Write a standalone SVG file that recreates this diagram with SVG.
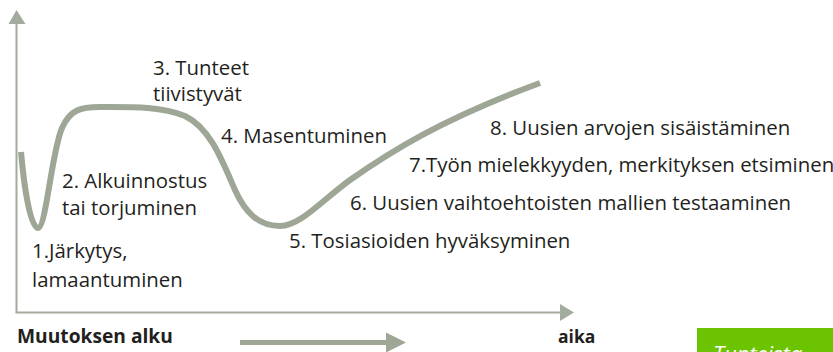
<svg xmlns="http://www.w3.org/2000/svg" width="833" height="352" viewBox="0 0 833 352">
<style>
.t{font-family:"Open Sans","Noto Sans",sans-serif;font-size:20.4px;fill:#231f20}
.b{font-family:"Open Sans","Noto Sans",sans-serif;font-size:19.2px;font-weight:bold;fill:#231f20}
.ax{stroke:#a3ab9e;stroke-width:2;fill:none}
.cv{stroke:#9ea696;stroke-width:6;fill:none;stroke-linecap:butt}
</style>
<g id="axes">
<line class="ax" x1="16.5" y1="22" x2="16.5" y2="312.5"/>
<line class="ax" x1="15.5" y1="312.5" x2="562" y2="312.5"/>
<polygon points="16.5,10 8.5,24 25.5,24" fill="#a3ab9e"/>
<polygon points="574,312.5 560,304 560,321" fill="#a3ab9e"/>
</g>
<g id="connectors">
<path class="cv" d="M21,152 C24,185 30,228 38,228 C46,228 52,150 62,128 C70,110 80,107 100,107 C130,107 160,106 185,116 C210,128 222,160 235,190 C245,212 258,226 280,226 C300,226 320,202 350,180 C390,152 440,120 540,83"/>
</g>
<g id="labels">
<text class="t" x="153" y="75">3. Tunteet</text>
<text class="t" x="153" y="101">tiivistyvät</text>
<text class="t" x="221" y="143">4. Masentuminen</text>
<text class="t" x="62" y="188">2. Alkuinnostus</text>
<text class="t" x="62" y="215">tai torjuminen</text>
<text class="t" x="32" y="258">1.Järkytys,</text>
<text class="t" x="32" y="287">lamaantuminen</text>
<text class="t" x="289" y="248">5. Tosiasioiden hyväksyminen</text>
<text class="t" x="350" y="210">6. Uusien vaihtoehtoisten mallien testaaminen</text>
<text class="t" x="409" y="172">7.Työn mielekkyyden, merkityksen etsiminen</text>
<text class="t" x="490" y="135">8. Uusien arvojen sisäistäminen</text>
</g>
<g id="bottom">
<text class="b" x="17" y="343">Muutoksen alku</text>
<text class="b" x="558" y="343" style="font-size:17.5px">aika</text>
<line x1="240" y1="342.5" x2="387" y2="342.5" stroke="#9ea696" stroke-width="5"/>
<polygon points="406,342.5 386,332.5 386,352.5" fill="#9ea696"/>
</g>
<g id="tab">
<rect x="697" y="328" width="136" height="24" fill="#6cc400"/>
<text x="713" y="362" font-family="Open Sans, sans-serif" font-style="italic" font-size="22" fill="#ffffff">Tunteista</text>
</g>
</svg>
